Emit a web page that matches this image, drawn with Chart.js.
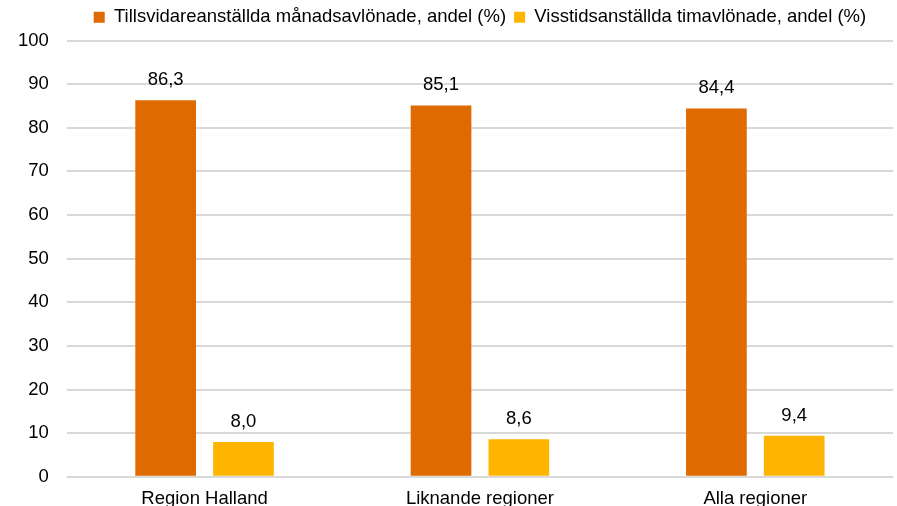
<!DOCTYPE html>
<html><head><meta charset="utf-8">
<script src="https://cdn.jsdelivr.net/npm/chart.js@4/dist/chart.umd.min.js"></script>
<style>html,body{margin:0;padding:0;background:#fff;overflow:hidden}#wrap{width:897px;height:506px;overflow:hidden}</style>
</head><body><div id="wrap"><canvas id="c" width="897" height="521"></canvas></div>
<script>
const categories = ["Region Halland", "Liknande regioner", "Alla regioner"];
const seriesNames = ["Tillsvidareanställda månadsavlönade, andel (%)", "Visstidsanställda timavlönade, andel (%)"];
const permanentMonthly = [86.3, 85.1, 84.4];
const temporaryHourly = [8.0, 8.6, 9.4];
const yTicks = [0, 10, 20, 30, 40, 50, 60, 70, 80, 90, 100];

const FONT = "'Liberation Sans', Arial, sans-serif";
const FS = 18.5;
const labelPlugin = {
  id: 'valueLabels',
  afterDatasetsDraw(chart) {
    const ctx = chart.ctx;
    ctx.save();
    ctx.font = FS + "px " + FONT;
    ctx.fillStyle = '#000';
    ctx.textAlign = 'center';
    ctx.textBaseline = 'bottom';
    chart.data.datasets.forEach((ds, i) => {
      chart.getDatasetMeta(i).data.forEach((bar, j) => {
        ctx.fillText(ds.data[j].toFixed(1).replace('.', ','), bar.x, bar.y - 11);
      });
    });
    ctx.restore();
  }
};
const legendSpace = {
  id: 'legendSpace',
  beforeInit(chart) {
    const orig = chart.legend.fit;
    chart.legend.fit = function () { orig.call(this); this.height += 4; };
  }
};

new Chart(document.getElementById('c'), {
  type: 'bar',
  data: {
    labels: categories,
    datasets: [
      { label: seriesNames[0], data: permanentMonthly, backgroundColor: '#DE6A00' },
      { label: seriesNames[1], data: temporaryHourly, backgroundColor: '#FFB400' }
    ]
  },
  options: {
    responsive: false,
    animation: false,
    devicePixelRatio: 1,
    categoryPercentage: 0.565,
    barPercentage: 0.78,
    layout: { padding: { left: 0, right: 4, top: 0, bottom: 0 } },
    plugins: {
      tooltip: { enabled: false },
      legend: {
        position: 'top',
        fullSize: false,
        labels: {
          font: { size: FS, family: FONT },
          color: '#000',
          boxWidth: 11,
          boxHeight: 11,
          padding: 8
        }
      }
    },
    scales: {
      x: {
        grid: { display: false, drawTicks: false },
        border: { display: false },
        ticks: { font: { size: FS, family: FONT }, color: '#000', padding: 11 }
      },
      y: {
        min: 0, max: 100,
        afterBuildTicks(axis) { axis.ticks = yTicks.map(v => ({ value: v })); },
        grid: { color: '#D9D9D9', lineWidth: 2, drawTicks: false },
        border: { display: false },
        ticks: { font: { size: FS, family: FONT }, color: '#000', padding: 18 }
      }
    }
  },
  plugins: [labelPlugin, legendSpace]
});
</script></body></html>
